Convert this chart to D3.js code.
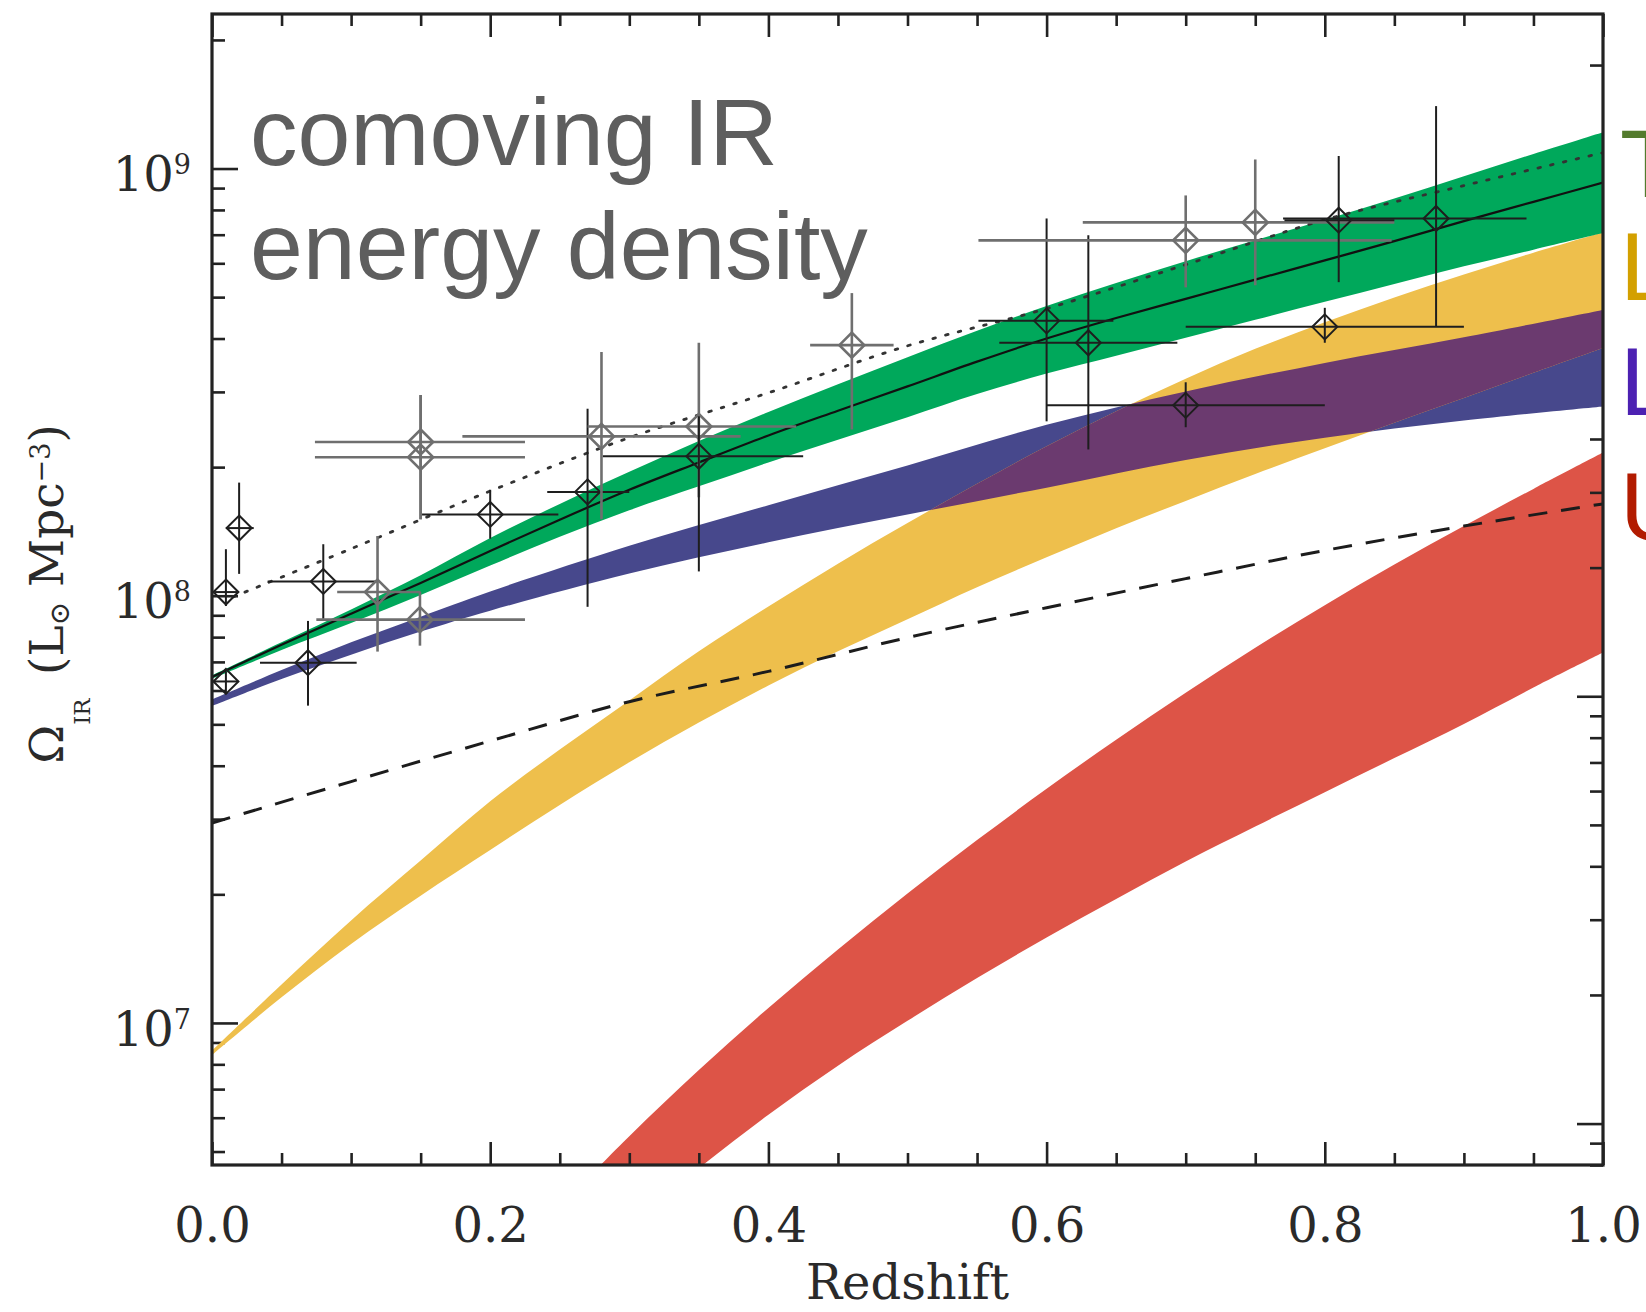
<!DOCTYPE html>
<html>
<head>
<meta charset="utf-8">
<script src="https://cdn.jsdelivr.net/npm/d3@7"></script>
<style>
  html, body { margin: 0; padding: 0; background: #fff; overflow: hidden; }
  svg { display: block; }
</style>
</head>
<body>
<svg id="chart" width="1646" height="1312"></svg>
<script>
// ---- values (Omega_IR given as log10, redshift z) ----
const zGrid = [0, 0.05, 0.1, 0.15, 0.2, 0.25, 0.3, 0.35, 0.4, 0.45, 0.5,
               0.55, 0.6, 0.65, 0.7, 0.75, 0.8, 0.85, 0.9, 0.95, 1.0];

// total IR (green band + solid line)
const totalLog   = [7.81, 7.885, 7.958, 8.03, 8.105, 8.178, 8.248, 8.312, 8.375, 8.433, 8.49,
                    8.548, 8.602, 8.65, 8.695, 8.74, 8.785, 8.83, 8.877, 8.922, 8.967];
const totalHiLog = [7.814, 7.891, 7.968, 8.048, 8.135, 8.215, 8.29, 8.362, 8.43, 8.495, 8.558,
                    8.62, 8.678, 8.732, 8.783, 8.832, 8.88, 8.93, 8.982, 9.034, 9.085];
const totalLoLog = [7.806, 7.873, 7.936, 8.002, 8.071, 8.138, 8.2, 8.256, 8.312, 8.365, 8.418,
                    8.472, 8.52, 8.562, 8.604, 8.646, 8.688, 8.73, 8.771, 8.81, 8.849];

// LIRGs (yellow band)
const lirgHiLog = [6.935, 7.09, 7.24, 7.38, 7.519, 7.64, 7.755, 7.87, 7.975, 8.075, 8.17,
                   8.262, 8.35, 8.432, 8.508, 8.578, 8.64, 8.698, 8.752, 8.803, 8.851];
const lirgLoLog = [6.925, 7.06, 7.185, 7.298, 7.405, 7.51, 7.61, 7.703, 7.79, 7.87, 7.945,
                   8.02, 8.09, 8.158, 8.222, 8.285, 8.345, 8.405, 8.463, 8.522, 8.58];

// low-luminosity galaxies (blue band)
const lowZ     = [0, 0.05, 0.1, 0.15, 0.2, 0.3, 0.4, 0.5, 0.6, 0.7, 0.8, 0.9, 1.0];
const lowHiLog = [7.757, 7.826, 7.891, 7.951, 8.01, 8.117, 8.212, 8.305, 8.40, 8.478, 8.545, 8.605, 8.669];
const lowLoLog = [7.742, 7.805, 7.862, 7.916, 7.965, 8.052, 8.125, 8.19, 8.253, 8.318, 8.37, 8.41, 8.443];

// ULIRGs (red band)
const ulirgZ     = [0.25, 0.3, 0.35, 0.4, 0.45, 0.5, 0.55, 0.6, 0.65, 0.7, 0.75, 0.8, 0.85, 0.9, 0.95, 1.0];
const ulirgHiLog = [6.57, 6.735, 6.89, 7.035, 7.172, 7.303, 7.428, 7.548, 7.663, 7.773, 7.878, 7.978, 8.073, 8.163, 8.25, 8.335];
const ulirgLoLog = [6.385, 6.525, 6.66, 6.785, 6.9, 7.005, 7.105, 7.2, 7.29, 7.378, 7.46, 7.54, 7.62, 7.7, 7.785, 7.867];

// dotted and dashed curves
const dottedZ   = [0.015, 0.1, 0.2, 0.3, 0.4, 0.5, 0.6, 0.7, 0.8, 0.9, 1.0];
const dottedLog = [7.997, 8.11, 8.245, 8.37, 8.475, 8.585, 8.672, 8.775, 8.88, 8.96, 9.037];
const dashedZ   = [0, 0.1, 0.2, 0.3, 0.4, 0.5, 0.6, 0.7, 0.8, 0.9, 1.0];
const dashedLog = [7.468, 7.565, 7.66, 7.752, 7.823, 7.902, 7.972, 8.04, 8.106, 8.163, 8.215];

// data points with error bars
const ptZ    = [0.01, 0.0195, 0.01, 0.069, 0.08, 0.119, 0.1495, 0.15, 0.15, 0.2, 0.27, 0.28,
                0.35, 0.35, 0.46, 0.60, 0.63, 0.70, 0.75, 0.81, 0.88, 0.80, 0.70];
const ptZlo  = [0.002, 0.01, 0.001, 0.0345, 0.04, 0.09, 0.075, 0.074, 0.074, 0.151, 0.241, 0.18,
                0.27, 0.281, 0.43, 0.551, 0.566, 0.551, 0.626, 0.771, 0.77, 0.70, 0.60];
const ptZhi  = [0.018, 0.03, 0.019, 0.104, 0.119, 0.15, 0.225, 0.225, 0.225, 0.249, 0.30, 0.38,
                0.42, 0.425, 0.49, 0.648, 0.694, 0.848, 0.85, 0.85, 0.945, 0.90, 0.80];
const ptVal  = [1.02e8, 1.44e8, 6.30e7, 6.97e7, 1.08e8, 1.02e8, 8.79e7, 2.29e8, 2.11e8, 1.55e8, 1.75e8, 2.36e8,
                2.49e8, 2.12e8, 3.86e8, 4.40e8, 3.91e8, 6.79e8, 7.48e8, 7.57e8, 7.64e8, 4.26e8, 2.79e8];
const ptLo   = [9.46e7, 1.125e8, 5.90e7, 5.53e7, 8.83e7, 7.40e7, 7.64e7, 1.51e8, 1.51e8, 1.36e8, 9.42e7, 1.51e8,
                1.70e8, 1.14e8, 2.45e8, 2.56e8, 2.20e8, 5.27e8, 5.33e8, 5.42e8, 4.26e8, 3.91e8, 2.48e8];
const ptHi   = [1.285e8, 1.84e8, 6.64e7, 8.73e7, 1.32e8, 1.38e8, 1.02e8, 2.95e8, 2.95e8, 1.77e8, 2.74e8, 3.72e8,
                3.91e8, 2.63e8, 5.11e8, 7.64e8, 6.98e8, 8.65e8, 1.05e9, 1.07e9, 1.40e9, 4.72e8, 3.16e8];
const ptGrey = [0, 0, 0, 0, 0, 1, 1, 1, 1, 0, 0, 1,
                1, 0, 1, 0, 0, 1, 1, 0, 0, 0, 0];

// ticks and labels
const xTickValues = [0, 0.2, 0.4, 0.6, 0.8, 1.0];
const xTickLabels = ['0.0', '0.2', '0.4', '0.6', '0.8', '1.0'];
const yDecadeExp  = [7, 8, 9];
const titleLines  = ['comoving IR', 'energy density'];
// only the first letter of each legend entry is inside the figure
const legendLabels = ['T', 'L', 'L', 'U'];
const legendColors = ['#537b2d', '#d3a000', '#4c21b2', '#b21b00'];

// ---- layout ----
const plot = { left: 212, right: 1603, top: 14, bottom: 1165 };
const colors = { green: '#00a85b', blue: '#47488c', purple: '#6b3a6f', yellow: '#eebf4c', red: '#dd5447' };
const serif = '"DejaVu Serif", serif';
const sans = '"Liberation Sans", Arial, sans-serif';

const svg = d3.select('#chart');

const x = d3.scaleLinear().domain([0, 1]).range([plot.left, plot.right]);
const y = d3.scaleLog().domain([4.65e6, 2.3e9]).range([plot.bottom, plot.top]);
// the right-hand axis carries a second, shifted log scale (no labels visible)
const yRight = d3.scaleLog().domain([0.008, 3.95]).range([plot.bottom, plot.top]);

const defs = svg.append('defs');
defs.append('clipPath').attr('id', 'plotClip')
  .append('rect')
  .attr('x', plot.left).attr('y', plot.top)
  .attr('width', plot.right - plot.left).attr('height', plot.bottom - plot.top);

function band(zs, lo, hi) {
  return zs.map((z, i) => ({ z, lo: 10 ** lo[i], hi: 10 ** hi[i] }));
}
const smooth = d3.curveCatmullRom.alpha(0.5);
const area = d3.area()
  .x(d => x(d.z))
  .y0(d => y(d.lo))
  .y1(d => y(d.hi))
  .curve(smooth);
const line = d3.line()
  .x(d => x(d.z))
  .y(d => y(d.v))
  .curve(smooth);

const totalBand = band(zGrid, totalLoLog, totalHiLog);
const lirgBand = band(zGrid, lirgLoLog, lirgHiLog);
const lowBand = band(lowZ, lowLoLog, lowHiLog);
const ulirgBand = band(ulirgZ, ulirgLoLog, ulirgHiLog);

defs.append('clipPath').attr('id', 'lirgClip')
  .append('path').attr('d', area(lirgBand));

const bands = svg.append('g').attr('clip-path', 'url(#plotClip)');
bands.append('path').attr('d', area(ulirgBand)).attr('fill', colors.red);

// ---- ticks (drawn under the bands, over the red one) ----
const xMinor = d3.range(0, 1.0001, 0.05).filter(v => Math.abs(v * 5 - Math.round(v * 5)) > 1e-6);
function logMinor(scale) {
  const [a, b] = scale.domain();
  return d3.range(-3, 10).flatMap(e => d3.range(2, 10).map(m => m * 10 ** e))
    .filter(v => v >= a && v <= b);
}
function logMajor(scale) {
  const [a, b] = scale.domain();
  return d3.range(-3, 10).map(e => 10 ** e).filter(v => v >= a && v <= b);
}

const tickG = svg.append('g').attr('color', '#222');
function tickAxis(axis, tx, ty) {
  tickG.append('g')
    .attr('transform', `translate(${tx},${ty})`)
    .call(axis.tickFormat('').tickSizeOuter(0))
    .call(g => g.select('.domain').remove())
    .call(g => g.selectAll('line').attr('stroke-width', 2.6));
}
tickAxis(d3.axisBottom(x).tickValues(xTickValues).tickSize(-23), 0, plot.bottom);
tickAxis(d3.axisBottom(x).tickValues(xMinor).tickSize(-12), 0, plot.bottom);
tickAxis(d3.axisTop(x).tickValues(xTickValues).tickSize(-23), 0, plot.top);
tickAxis(d3.axisTop(x).tickValues(xMinor).tickSize(-12), 0, plot.top);
tickAxis(d3.axisLeft(y).tickValues(logMajor(y)).tickSize(-26), plot.left, 0);
tickAxis(d3.axisLeft(y).tickValues(logMinor(y)).tickSize(-13), plot.left, 0);
tickAxis(d3.axisRight(yRight).tickValues(logMajor(yRight)).tickSize(-26), plot.right, 0);
tickAxis(d3.axisRight(yRight).tickValues(logMinor(yRight)).tickSize(-13), plot.right, 0);

// ---- remaining bands ----
const bands2 = svg.append('g').attr('clip-path', 'url(#plotClip)');
bands2.append('path').attr('d', area(lowBand)).attr('fill', colors.blue);
bands2.append('path').attr('d', area(lirgBand)).attr('fill', colors.yellow);
bands2.append('path').attr('d', area(lowBand)).attr('fill', colors.purple)
  .attr('clip-path', 'url(#lirgClip)');
bands2.append('path').attr('d', area(totalBand)).attr('fill', colors.green);

// ---- curves ----
const curves = svg.append('g').attr('clip-path', 'url(#plotClip)').attr('fill', 'none');
curves.append('path')
  .attr('d', line(dashedZ.map((z, i) => ({ z, v: 10 ** dashedLog[i] }))))
  .attr('stroke', '#1c1c1c').attr('stroke-width', 3).attr('stroke-dasharray', '19,14');
curves.append('path')
  .attr('d', line(dottedZ.map((z, i) => ({ z, v: 10 ** dottedLog[i] }))))
  .attr('stroke', '#333').attr('stroke-width', 2.8).attr('stroke-dasharray', '2.6,10.5')
  .attr('stroke-linecap', 'round');
curves.append('path')
  .attr('d', line(zGrid.map((z, i) => ({ z, v: 10 ** totalLog[i] }))))
  .attr('stroke', '#111').attr('stroke-width', 2.2);

// ---- data points ----
const pts = ptZ.map((z, i) => ({
  z, v: ptVal[i], zlo: ptZlo[i], zhi: ptZhi[i], lo: ptLo[i], hi: ptHi[i], grey: ptGrey[i] === 1
}));
const ptG = svg.append('g').attr('fill', 'none');
const p = ptG.selectAll('g').data(pts).join('g')
  .attr('stroke', d => d.grey ? '#6f6f6f' : '#1e1e1e')
  .attr('stroke-width', d => d.grey ? 2.6 : 2);
p.append('line')
  .attr('x1', d => x(d.zlo)).attr('x2', d => x(d.zhi))
  .attr('y1', d => y(d.v)).attr('y2', d => y(d.v));
p.append('line')
  .attr('x1', d => x(d.z)).attr('x2', d => x(d.z))
  .attr('y1', d => y(d.lo)).attr('y2', d => y(d.hi));
p.append('path')
  .attr('d', d => {
    const cx = x(d.z), cy = y(d.v), r = 12.5;
    return `M${cx},${cy - r}L${cx + r},${cy}L${cx},${cy + r}L${cx - r},${cy}Z`;
  });

// ---- frame ----
svg.append('rect')
  .attr('x', plot.left).attr('y', plot.top)
  .attr('width', plot.right - plot.left).attr('height', plot.bottom - plot.top)
  .attr('fill', 'none').attr('stroke', '#222').attr('stroke-width', 3.2);

// ---- tick labels ----
svg.append('g')
  .attr('transform', `translate(0,${plot.bottom})`)
  .call(d3.axisBottom(x).tickValues(xTickValues).tickSize(0).tickPadding(43)
    .tickFormat((d, i) => xTickLabels[i]))
  .call(g => g.select('.domain').remove())
  .attr('font-family', serif).attr('font-size', 48).attr('color', '#2a2a2a');

svg.append('g')
  .attr('transform', `translate(${plot.left},0)`)
  .call(d3.axisLeft(y).tickValues(yDecadeExp.map(e => 10 ** e)).tickSize(0).tickPadding(21)
    .tickFormat(''))
  .call(g => g.select('.domain').remove())
  .attr('font-family', serif).attr('font-size', 48).attr('color', '#2a2a2a')
  .call(g => g.selectAll('text').each(function (d, i) {
    const t = d3.select(this).attr('dy', '0.46em').text('10');
    t.append('tspan').attr('dy', -17).attr('font-size', 27).text(yDecadeExp[i]);
  }));

// ---- axis titles ----
svg.append('text')
  .attr('x', (plot.left + plot.right) / 2).attr('y', 1299)
  .attr('text-anchor', 'middle')
  .attr('font-family', serif).attr('font-size', 48).attr('fill', '#2a2a2a')
  .text('Redshift');

const yl = svg.append('text')
  .attr('transform', 'translate(63,594) rotate(-90)')
  .attr('text-anchor', 'middle')
  .attr('font-family', serif).attr('font-size', 47).attr('fill', '#2a2a2a');
yl.append('tspan').text('Ω');
yl.append('tspan').attr('font-size', 23).attr('dy', 27).text('IR');
yl.append('tspan').attr('dy', -27).text('\u2002(L');
yl.append('tspan').attr('font-size', 28).attr('dy', 6).text('⊙');
yl.append('tspan').attr('dy', -6).text(' Mpc');
yl.append('tspan').attr('font-size', 27).attr('dy', -13).text('−3');
yl.append('tspan').attr('dy', 13).text(')');

// ---- in-plot title ----
svg.append('g').selectAll('text').data(titleLines).join('text')
  .attr('x', 250).attr('y', (d, i) => 165 + i * 114)
  .attr('font-family', sans).attr('font-size', 95).attr('fill', '#5e5e5e')
  .text(d => d);

// ---- legend (cut by the right edge of the figure, as in the original) ----
const legendBaselines = [197, 300, 415, 540];
svg.append('g').selectAll('text').data(legendLabels).join('text')
  .attr('x', 1620).attr('y', (d, i) => legendBaselines[i])
  .attr('font-family', sans).attr('font-size', 96)
  .attr('fill', (d, i) => legendColors[i])
  .text(d => d);
</script>
</body>
</html>
